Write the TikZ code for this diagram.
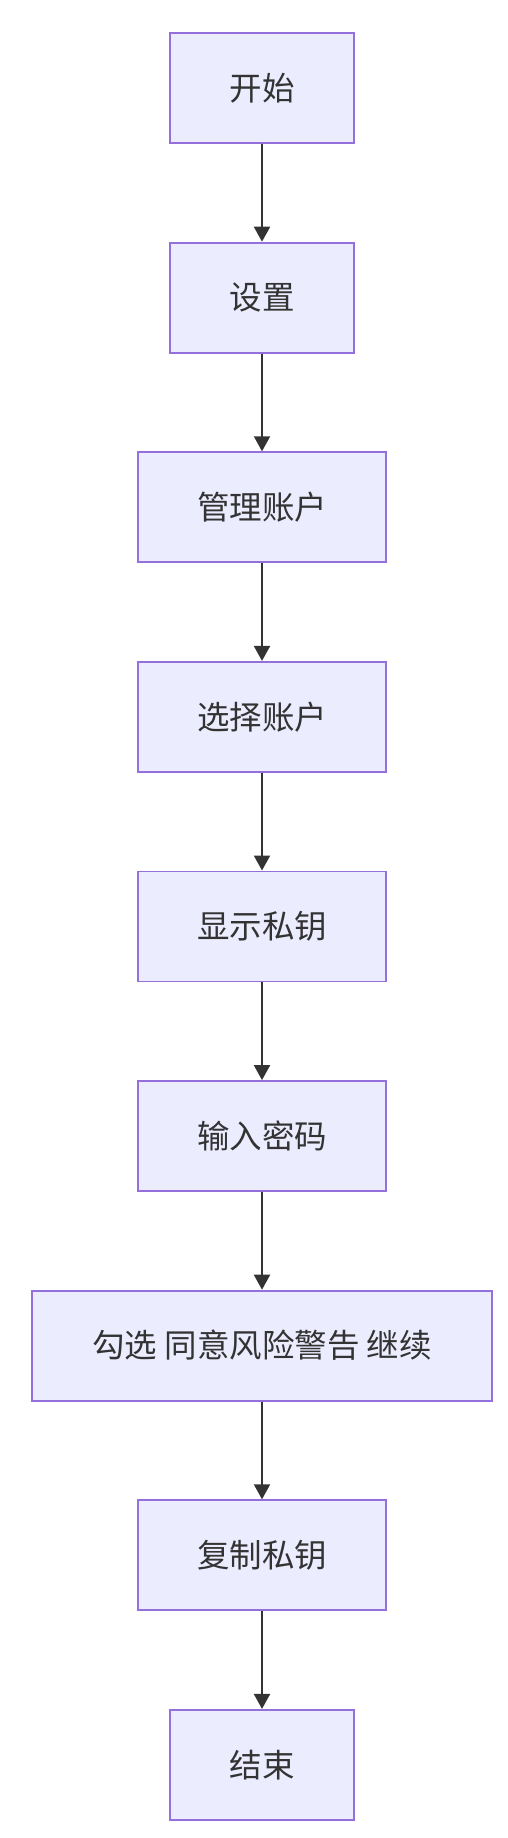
\documentclass[tikz,border=0pt]{standalone}
\usepackage{fontspec}
\newfontfamily\cjk{Noto Sans CJK SC}
\usetikzlibrary{arrows.meta}
\definecolor{boxfill}{HTML}{ECECFF}
\definecolor{boxline}{HTML}{9370DB}
\definecolor{ink}{HTML}{333333}
\tikzset{
  stepbox/.style={draw=boxline, fill=boxfill, line width=1.8pt, minimum height=110pt, inner sep=0pt, text=ink, font=\cjk\fontsize{32.5pt}{38pt}\selectfont},
  narrow/.style={minimum width=184pt},
  medium/.style={minimum width=248pt},
  broad/.style={minimum width=460pt},
  flow/.style={draw=ink, line width=2pt, -{Triangle[length=15pt,width=16pt]}}
}
\begin{document}
\begin{tikzpicture}[x=1pt,y=1pt]
\fill[white] (0,0) rectangle (508,-1838);
\useasboundingbox (0,0) rectangle (508,-1838);
\node[stepbox,narrow] (n1) at (262,-88) {开始};
\node[stepbox,narrow] (n2) at (262,-297.6) {设置};
\node[stepbox,medium] (n3) at (262,-507.2) {管理账户};
\node[stepbox,medium] (n4) at (262,-716.8) {选择账户};
\node[stepbox,medium] (n5) at (262,-926.4) {显示私钥};
\node[stepbox,medium] (n6) at (262,-1136) {输入密码};
\node[stepbox,broad] (n7) at (262,-1345.6) {勾选 同意风险警告 继续};
\node[stepbox,medium] (n8) at (262,-1555.2) {复制私钥};
\node[stepbox,narrow] (n9) at (262,-1764.8) {结束};
\draw[flow] (n1) -- (n2);
\draw[flow] (n2) -- (n3);
\draw[flow] (n3) -- (n4);
\draw[flow] (n4) -- (n5);
\draw[flow] (n5) -- (n6);
\draw[flow] (n6) -- (n7);
\draw[flow] (n7) -- (n8);
\draw[flow] (n8) -- (n9);
\end{tikzpicture}
\end{document}
